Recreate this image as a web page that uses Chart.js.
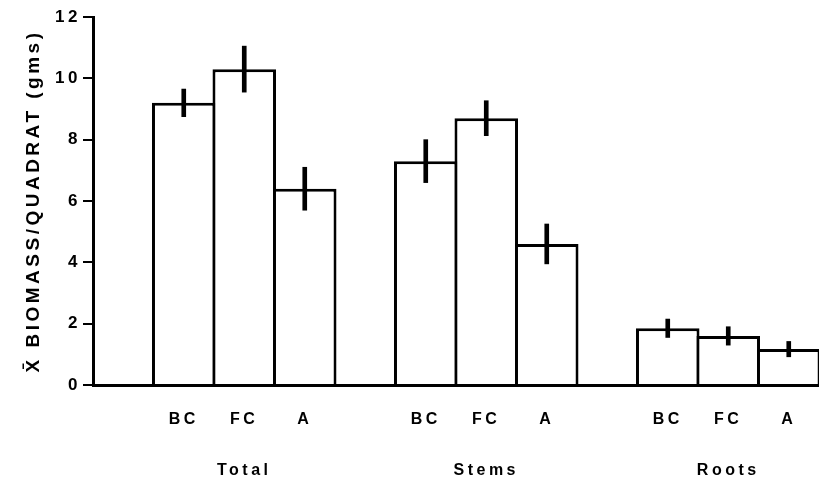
<!DOCTYPE html>
<html>
<head>
<meta charset="utf-8">
<script src="https://cdn.jsdelivr.net/npm/chart.js@4"></script>
<style>
  html, body { margin: 0; padding: 0; background: #fff; }
  #wrap { width: 819px; height: 497px; }
</style>
</head>
<body>
<div id="wrap"><canvas id="biomassChart"></canvas></div>
<script>
// values
const groups = ['Total', 'Stems', 'Roots'];
const treatments = ['BC', 'FC', 'A'];
const totalMean = [9.2, 10.3, 6.4];
const totalErr = [0.45, 0.75, 0.7];
const stemsMean = [7.3, 8.7, 4.6];
const stemsErr = [0.7, 0.57, 0.65];
const rootsMean = [1.85, 1.6, 1.17];
const rootsErr = [0.3, 0.3, 0.25];
const yTicks = [0, 2, 4, 6, 8, 10, 12];

// one empty slot before each group, then BC FC A
const means = [totalMean, stemsMean, rootsMean];
const errs = [totalErr, stemsErr, rootsErr];
const labels = [];
const barData = [];
const errData = [];
groups.forEach((g, gi) => {
  labels.push('');
  barData.push(null);
  errData.push(null);
  treatments.forEach((t, ti) => {
    labels.push(ti === 1 ? [t, '', g] : t);
    barData.push(means[gi][ti]);
    errData.push([means[gi][ti] - errs[gi][ti], means[gi][ti] + errs[gi][ti]]);
  });
});

// the old lettering is widely spaced
const spacing = {
  id: 'spacing',
  beforeDraw(chart) { chart.ctx.letterSpacing = '3.5px'; },
  afterDraw(chart) { chart.ctx.letterSpacing = '0px'; }
};

const ctx = document.getElementById('biomassChart').getContext('2d');
new Chart(ctx, {
  type: 'bar',
  data: {
    labels: labels,
    datasets: [{
      label: 'error',
      data: errData,
      backgroundColor: '#000',
      borderWidth: 0,
      barThickness: 4,
      grouped: false,
      order: 0
    }, {
      label: 'mean',
      data: barData,
      backgroundColor: '#fff',
      borderColor: '#000',
      borderSkipped: 'bottom',
      borderWidth: 3,
      barPercentage: 1.05,   // neighbours overlap by one border width
      categoryPercentage: 1,
      grouped: false,
      order: 1
    }]
  },
  options: {
    responsive: true,
    maintainAspectRatio: false,
    animation: false,
    layout: {padding: {top: 17, right: 0, left: 0, bottom: 0}},
    plugins: {legend: {display: false}, tooltip: {enabled: false}},
    scales: {
      x: {
        afterFit: (s) => { s.height = 112; },
        grid: {display: false},
        border: {display: true, color: '#000', width: 3},
        ticks: {
          color: '#000',
          maxRotation: 0,
          autoSkip: false,
          padding: 14,
          font: {family: 'Liberation Sans', size: 16, weight: 'bold', lineHeight: 1.6}
        }
      },
      y: {
        min: 0,
        max: 12,
        afterFit: (s) => { s.width = 93; },
        afterBuildTicks: (s) => { s.ticks = yTicks.map(v => ({value: v})); },
        grid: {drawOnChartArea: false, color: '#000', lineWidth: 2, tickLength: 10},
        border: {display: true, color: '#000', width: 3},
        ticks: {
          color: '#000',
          padding: 2,
          font: {family: 'Liberation Sans', size: 17, weight: 'bold'}
        },
        title: {
          display: true,
          text: 'X\u0304 BIOMASS/QUADRAT (gms)',
          color: '#000',
          padding: {top: 22, bottom: 0},
          font: {family: 'Liberation Sans', size: 19, weight: 'bold'}
        }
      }
    }
  },
  plugins: [spacing]
});
</script>
</body>
</html>
